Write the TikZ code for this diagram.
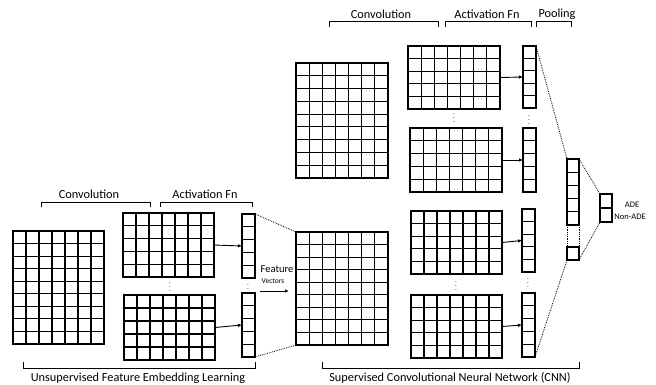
\documentclass[tikz,border=0pt]{standalone}
\usepackage{fontspec}
\setmainfont{Carlito}
\usetikzlibrary{calc,arrows.meta}
\tikzset{
  cellbox/.style={draw=black, line width=1.25pt, inner sep=0pt, outer sep=0pt, anchor=north west},
  gridline/.style={draw=black, line width=1.2pt},
  conn/.style={draw=black, line width=0.8pt, densely dotted},
  arr/.style={draw=black, line width=0.9pt, -{Latex[length=4pt,width=3.5pt]}},
  brk/.style={draw=black, line width=1pt},
  lbl/.style={font=\fontsize{12.3}{14}\selectfont, inner sep=0pt},
  dots/.style={inner sep=0pt, font=\scriptsize},
}
% name, x, y (top-left, px), width, height, cols, rows
\newcommand\mkgrid[7]{%
  \node[cellbox, minimum width=#4pt, minimum height=#5pt] (#1) at (#2,#3) {};
  \ifnum#6>1
  \pgfmathtruncatemacro\mycolsm{#6-1}%
  \foreach \i in {1,...,\mycolsm}
    \draw[gridline] ($(#1.north west)!\i/#6!(#1.north east)$) -- ($(#1.south west)!\i/#6!(#1.south east)$);
  \fi
  \ifnum#7>1
  \pgfmathtruncatemacro\myrowsm{#7-1}%
  \foreach \j in {1,...,\myrowsm}
    \draw[gridline] ($(#1.north west)!\j/#7!(#1.south west)$) -- ($(#1.north east)!\j/#7!(#1.south east)$);
  \fi
}
\begin{document}
\begin{tikzpicture}[x=1pt,y=-1pt]
\useasboundingbox (0,0) rectangle (656,385);

% ---------- left section ----------
\mkgrid{A}{13}{231}{91}{113}{7}{9}
\mkgrid{B1}{123}{213}{91}{64}{7}{5}
\mkgrid{B2}{124}{295}{91}{65}{7}{5}
\mkgrid{V1}{242}{214}{13}{64}{1}{5}
\mkgrid{V2}{242}{293}{13}{64}{1}{5}
\node[dots] (d1) at (170,284) {$\vdots$};
\node[dots] (d2) at (248,286) {$\vdots$};
\draw[arr] (B1.east) -- (V1.west);
\draw[arr] (B2.east) -- (V2.west);

% brackets left
\draw[brk] (41,207) -- (41,202) -- (150,202) -- (150,207);
\node[lbl] (l1) at (89,194) {Convolution};
\draw[brk] (160,207) -- (160,202) -- (252,202) -- (252,207);
\node[lbl] (l2) at (205,194) {Activation Fn};
\draw[brk] (23,362) -- (23,368) -- (255,368) -- (255,362);
\node[lbl] (l3) at (138,378) {Unsupervised Feature Embedding Learning};

% feature vectors
\node[inner sep=0pt, font=\fontsize{10.5}{12}\selectfont] (fv1) at (277,269) {Feature};
\node[inner sep=0pt, font=\fontsize{7.5}{9}\selectfont] (fv2) at (273,281) {Vectors};
\coordinate (fa) at (260,291);
\coordinate (fb) at (289,291);
\draw[arr] (fa) -- (fb);

% ---------- CNN ----------
\mkgrid{C}{296}{232}{92}{113}{7}{9}
\mkgrid{D}{296}{63}{92}{115}{7}{9}
\draw[conn] (V1.north east) -- (C.north west);
\draw[conn] (V2.south east) -- (C.south west);

\mkgrid{E1}{408}{46}{92}{63}{7}{5}
\mkgrid{E2}{410}{128}{92}{64}{7}{5}
\mkgrid{E3}{411}{211}{91}{63}{7}{5}
\mkgrid{E4}{411}{295}{91}{63}{7}{5}
\mkgrid{W1}{523}{46}{13}{62}{1}{5}
\mkgrid{W2}{523}{128}{13}{64}{1}{5}
\mkgrid{W3}{522}{209}{13}{63}{1}{5}
\mkgrid{W4}{522}{293}{13}{64}{1}{5}
\draw[arr] (E1.east) -- (W1.west);
\draw[arr] (E2.east) -- (W2.west);
\draw[arr] (E3.east) -- (W3.west);
\draw[arr] (E4.east) -- (W4.west);
\node[dots] (d3) at (454,115) {$\vdots$};
\node[dots] (d4) at (529,117) {$\vdots$};
\node[dots] (d5) at (456,283) {$\vdots$};
\node[dots] (d6) at (528,280) {$\vdots$};

% pooling
\mkgrid{P1}{567}{159}{12}{66}{1}{5}
\mkgrid{P2}{567}{247}{12}{13}{1}{1}
\draw[conn] (P1.south west) -- (P2.north west);
\draw[conn] (P1.south east) -- (P2.north east);
\draw[conn] (W1.north east) -- (P1.north west);
\draw[conn] (W4.south east) -- (P2.south west);

% output
\mkgrid{O}{600}{194}{12}{28}{1}{2}
\draw[conn] (P1.north east) -- (O.north west);
\draw[conn] (P2.south east) -- (O.south west);
\node[inner sep=0pt, font=\fontsize{8.5}{10}\selectfont] (ade) at (632,205) {ADE};
\node[inner sep=0pt, font=\fontsize{8.5}{10}\selectfont] (nade) at (630,217) {Non-ADE};

% brackets CNN
\draw[brk] (329,27) -- (329,22) -- (438,22) -- (438,27);
\node[lbl] (c1) at (381,14) {Convolution};
\draw[brk] (445,27) -- (445,22) -- (531,22) -- (531,27);
\node[lbl] (c2) at (487,14) {Activation Fn};
\draw[brk] (536,27) -- (536,22) -- (571,22) -- (571,27);
\node[lbl] (c3) at (557,14) {Pooling};
\draw[brk] (322,362) -- (322,368) -- (579,368) -- (579,362);
\node[lbl] (c4) at (450,378) {Supervised Convolutional Neural Network (CNN)};
\end{tikzpicture}
\end{document}
